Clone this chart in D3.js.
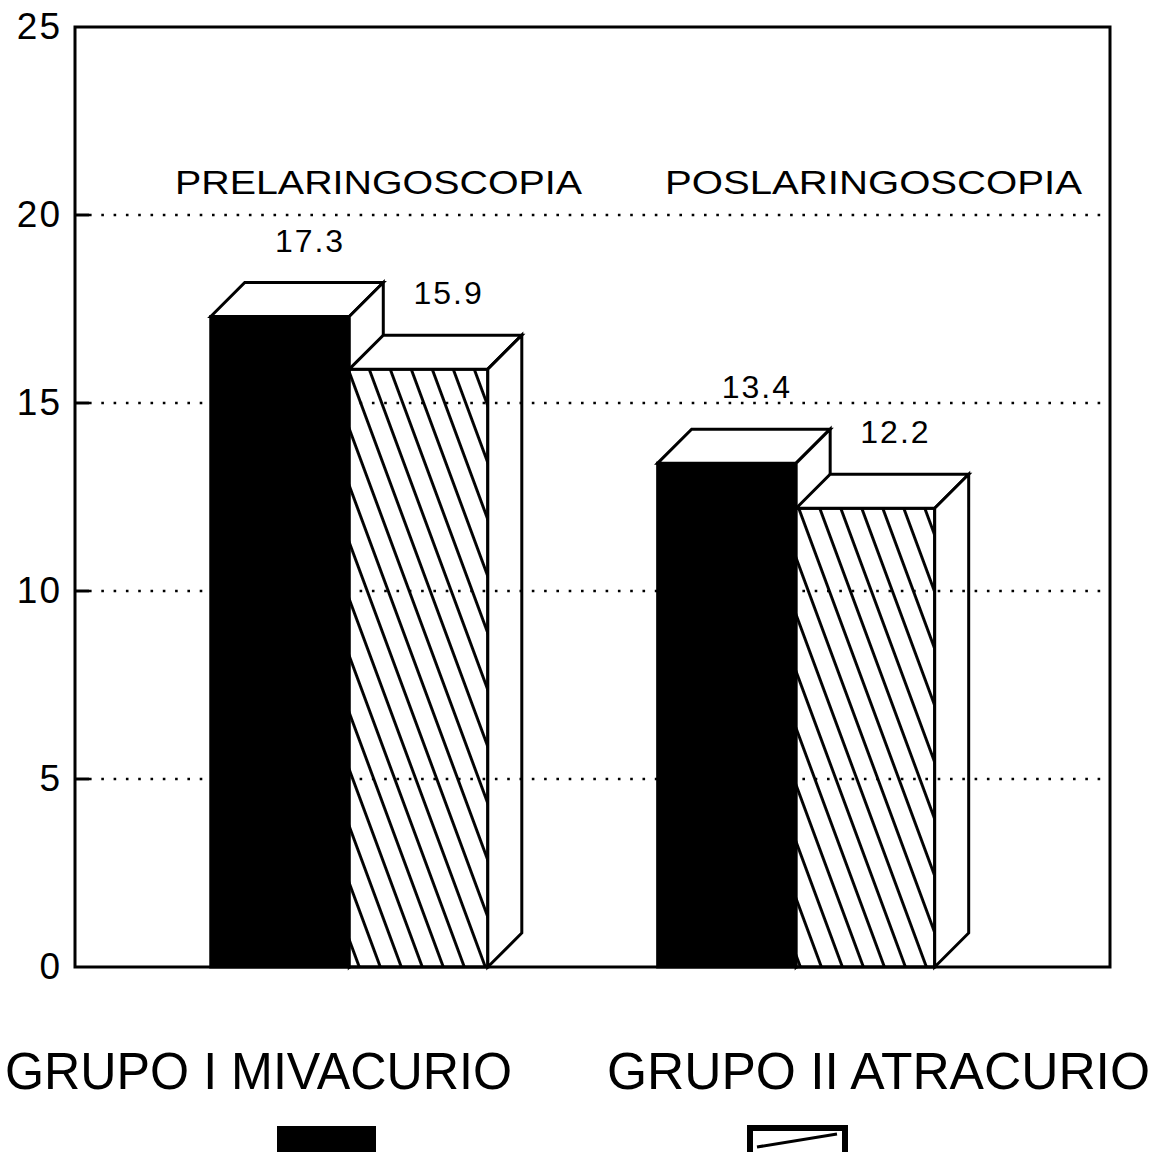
<!DOCTYPE html>
<html>
<head>
<meta charset="utf-8">
<script src="https://cdn.jsdelivr.net/npm/d3@7"></script>
<style>
  html, body { margin: 0; padding: 0; background: #fff; }
  svg { display: block; }
  text { font-family: "Liberation Sans", Arial, Helvetica, sans-serif; fill: #000; }
</style>
</head>
<body>
<svg id="chart" width="1160" height="1152"></svg>
<script>
// ---- data ----
const categories = ["PRELARINGOSCOPIA", "POSLARINGOSCOPIA"];
const seriesNames = ["GRUPO I MIVACURIO", "GRUPO II ATRACURIO"];
const mivacurio = [17.3, 13.4];
const atracurio = [15.9, 12.2];
const yTicks = [0, 5, 10, 15, 20, 25];
const gridTicks = [5, 10, 15, 20];

// ---- layout ----
const W = 1160, H = 1152;
const plot = { left: 75, right: 1110, top: 27, bottom: 967 };
const depth = 34;

const svg = d3.select("#chart");

const defs = svg.append("defs");
const pat = defs.append("pattern")
  .attr("id", "hatch")
  .attr("patternUnits", "userSpaceOnUse")
  .attr("width", 19.7).attr("height", 20)
  .attr("patternTransform", "rotate(-20.3)");
pat.append("rect").attr("width", 19.7).attr("height", 20).attr("fill", "#fff");
pat.append("line").attr("x1", 1.5).attr("x2", 1.5).attr("y1", -1).attr("y2", 21)
  .attr("stroke", "#000").attr("stroke-width", 2.9);

const y = d3.scaleLinear().domain([0, 25]).range([plot.bottom, plot.top]);
const x0 = d3.scaleBand().domain(categories).range([plot.left, plot.right])
  .paddingInner(0.304).paddingOuter(0.31).align(0.49);
const x1 = d3.scaleBand().domain(seriesNames).range([0, x0.bandwidth() - depth]);

const fills = ["#000", "url(#hatch)"];
const values = [mivacurio, atracurio];

const rows = [];
categories.forEach((c, i) => {
  seriesNames.forEach((s, j) => {
    rows.push({ cat: c, ser: s, j: j, v: values[j][i] });
  });
});

// plot frame background
svg.append("rect")
  .attr("x", plot.left).attr("y", plot.top)
  .attr("width", plot.right - plot.left).attr("height", plot.bottom - plot.top)
  .attr("fill", "#fff");

// bars (3D)
const bars = svg.append("g").attr("stroke", "#000").attr("stroke-width", 3)
  .attr("stroke-linejoin", "miter");
rows.forEach(r => {
  const bx = x0(r.cat) + x1(r.ser);
  const bw = x1.bandwidth();
  const yt = y(r.v), yb = y(0);
  const g = bars.append("g");
  g.append("rect").attr("x", bx).attr("y", yt).attr("width", bw).attr("height", yb - yt)
    .attr("fill", fills[r.j]);
  g.append("polygon")
    .attr("points", [[bx, yt], [bx + depth, yt - depth], [bx + bw + depth, yt - depth], [bx + bw, yt]].map(p => p.join(",")).join(" "))
    .attr("fill", "#fff");
  g.append("polygon")
    .attr("points", [[bx + bw, yt], [bx + bw + depth, yt - depth], [bx + bw + depth, yb - depth], [bx + bw, yb]].map(p => p.join(",")).join(" "))
    .attr("fill", "#fff");
});

// dotted gridlines
const grid = svg.append("g");
grid.selectAll("line.grid").data(gridTicks).join("line")
  .attr("class", "grid")
  .attr("x1", plot.left + 14).attr("x2", plot.right)
  .attr("y1", d => y(d)).attr("y2", d => y(d))
  .attr("stroke", "#000").attr("stroke-width", 2.6)
  .attr("stroke-dasharray", "2.6 9.7");
grid.selectAll("line.tick").data(gridTicks).join("line")
  .attr("class", "tick")
  .attr("x1", plot.left).attr("x2", plot.left + 14)
  .attr("y1", d => y(d)).attr("y2", d => y(d))
  .attr("stroke", "#000").attr("stroke-width", 3);

// frame
svg.append("rect")
  .attr("x", plot.left).attr("y", plot.top)
  .attr("width", plot.right - plot.left).attr("height", plot.bottom - plot.top)
  .attr("fill", "none").attr("stroke", "#000").attr("stroke-width", 3);

// y axis labels
const yAxis = d3.axisLeft(y).tickValues(yTicks).tickSize(0).tickPadding(13)
  .tickFormat(d3.format("d"));
const ya = svg.append("g").attr("transform", `translate(${plot.left},0)`).call(yAxis);
ya.select(".domain").remove();
ya.selectAll("text").attr("font-size", 37).attr("font-family", "Liberation Sans, Arial, sans-serif")
  .attr("letter-spacing", 2).attr("fill", "#000");

// value labels
svg.append("g").selectAll("text").data(rows).join("text")
  .attr("x", r => x0(r.cat) + x1(r.ser) + (x1.bandwidth() + depth) / 2 + 13)
  .attr("y", r => y(r.v) - depth - 31)
  .attr("text-anchor", "middle")
  .attr("font-size", 32)
  .attr("letter-spacing", 2)
  .text(r => d3.format(".1f")(r.v));

// category labels
const catLabelX = [175, 665];
const catLabelLen = [407, 417];
svg.append("g").selectAll("text").data(categories).join("text")
  .attr("x", (d, i) => catLabelX[i])
  .attr("y", 194)
  .attr("font-size", 34)
  .attr("textLength", (d, i) => catLabelLen[i])
  .attr("lengthAdjust", "spacingAndGlyphs")
  .text(d => d);

// legend
const legTextX = [5, 607];
const legTextLen = [507, 543];
const legSwX = [277, 747];
const leg = svg.append("g");
seriesNames.forEach((s, i) => {
  leg.append("text")
    .attr("x", legTextX[i]).attr("y", 1089)
    .attr("font-size", 52)
    .attr("textLength", legTextLen[i])
    .attr("lengthAdjust", "spacingAndGlyphs")
    .text(s);
});
leg.append("rect").attr("x", legSwX[0]).attr("y", 1126).attr("width", 99).attr("height", 40)
  .attr("fill", "#000");
leg.append("rect").attr("x", legSwX[1] + 3).attr("y", 1128).attr("width", 95).attr("height", 40)
  .attr("fill", "#fff").attr("stroke", "#000").attr("stroke-width", 6);
leg.append("line")
  .attr("x1", legSwX[1] + 10).attr("y1", 1147).attr("x2", legSwX[1] + 90).attr("y2", 1134)
  .attr("stroke", "#000").attr("stroke-width", 3);
</script>
</body>
</html>
